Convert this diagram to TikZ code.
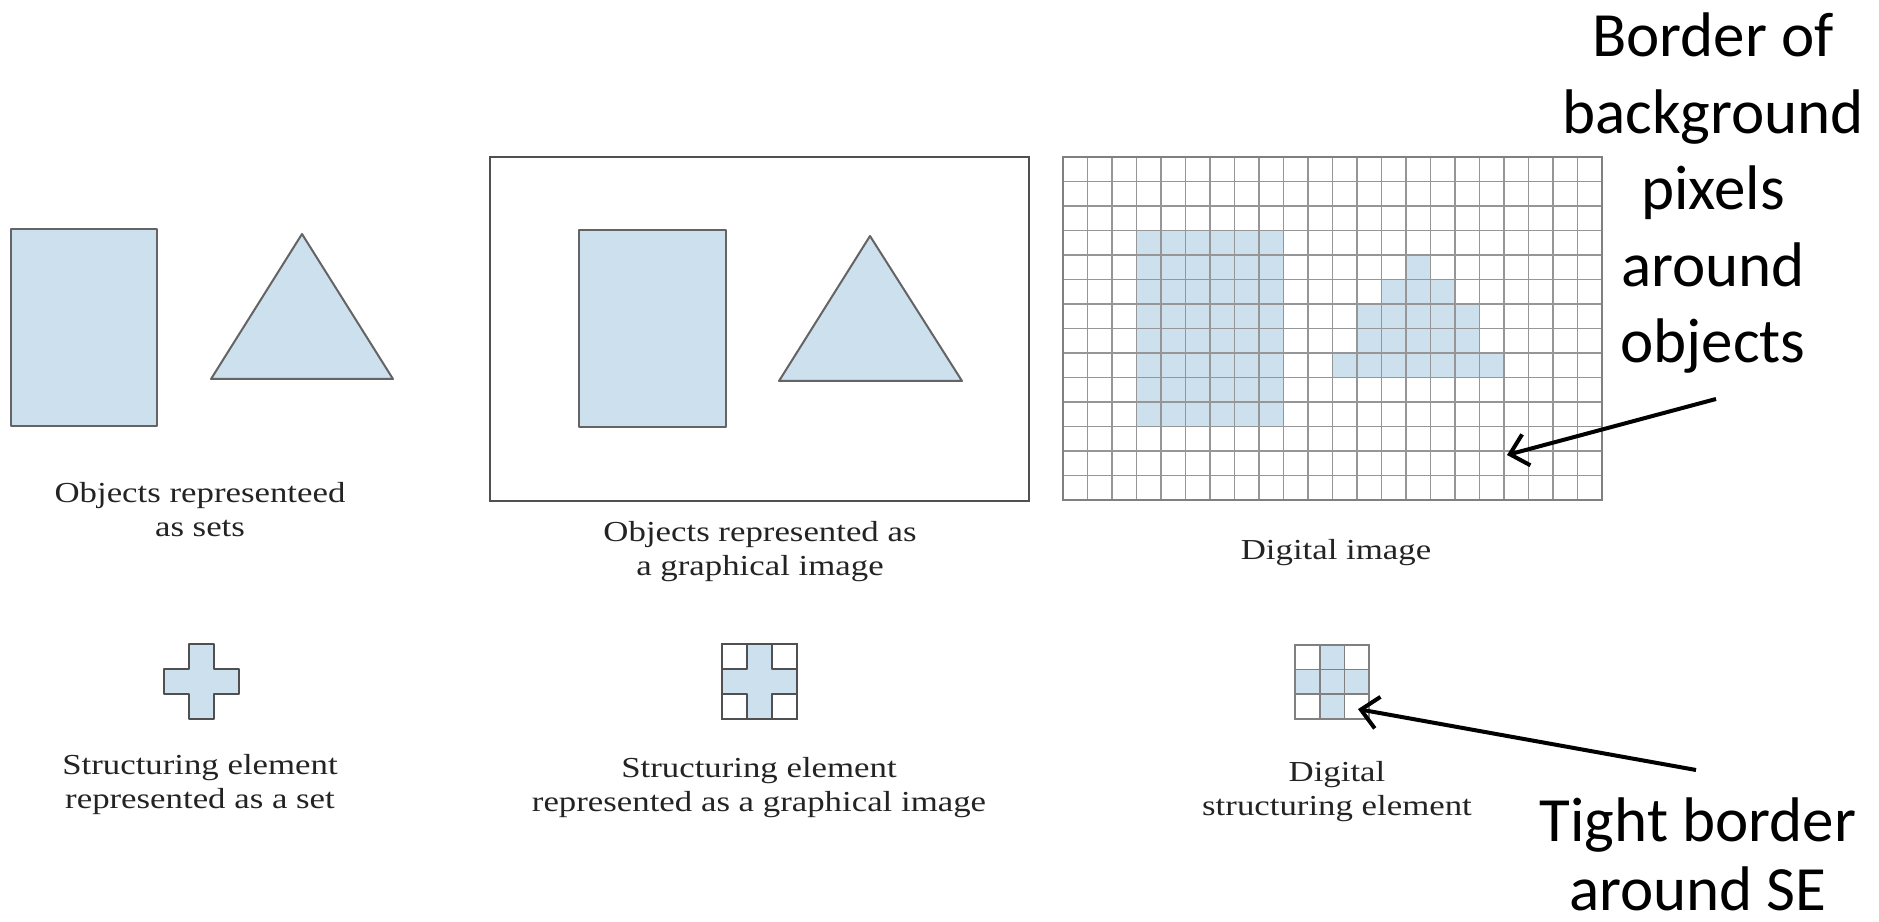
\documentclass[tikz,border=0pt]{standalone}
\usepackage{fontspec}
\usetikzlibrary{arrows.meta,backgrounds}
\newfontfamily\capfont[FakeStretch=1.2]{Liberation Serif}
\newfontfamily\notefont{Carlito}
\definecolor{setblue}{RGB}{204,224,237}
\definecolor{edgegray}{RGB}{100,100,100}
\definecolor{gridgray}{RGB}{150,150,150}
\definecolor{framegray}{RGB}{80,80,80}
\definecolor{capgray}{RGB}{35,35,35}

\tikzset{
  blueobj/.style={fill=setblue, draw=edgegray, line width=2pt, line join=round},
  capt/.style={font=\capfont\fontsize{29}{34}\selectfont, text=capgray,
    align=center, anchor=base, inner sep=0pt},
  note/.style={font=\notefont\fontsize{63}{76.5}\selectfont,
    align=center, anchor=base, inner sep=0pt},
  pointer/.style={line width=4pt, -{Straight Barb[length=17pt,width=32pt]}}
}

\begin{document}
\begin{tikzpicture}[x=1pt,y=1pt]
\useasboundingbox (0,0) rectangle (1879,921);

% Objects as sets
\draw[blueobj] (11,495) rectangle (157,692);
\draw[blueobj] (211,542) -- (302,687) -- (393,542) -- cycle;

% Objects as a graphical image
\draw[framegray, line width=2.5pt] (490,420) rectangle (1029,764);
\draw[blueobj] (579,494) rectangle (726,691);
\draw[blueobj] (779,540) -- (870,685) -- (962,540) -- cycle;

% Digital image: 22 x 14 pixels
\begin{scope}[shift={(1063,421)}, x=24.5pt, y=24.5pt]
  \begin{pgfonlayer}{background}% pixels of the objects
    \fill[setblue] (3,3) rectangle (9,11);
    \fill[setblue] (11,5) -- (18,5) -- (18,6) -- (17,6) -- (17,8) --
      (16,8) -- (16,9) -- (15,9) -- (15,10) -- (14,10) -- (14,9) --
      (13,9) -- (13,8) -- (12,8) -- (12,6) -- (11,6) -- cycle;
  \end{pgfonlayer}
  \foreach \i in {1,...,21}
    \draw[gridgray, line width=1.7pt] (\i,0) -- (\i,14);
  \foreach \j in {1,...,13}
    \draw[gridgray, line width=1.7pt] (0,\j) -- (22,\j);
  \draw[gray, line width=2.5pt] (0,0) rectangle (22,14);
\end{scope}

% Structuring element as a set
\begin{scope}[shift={(164,202)}, x=25pt, y=25pt]
  \draw[blueobj, draw=framegray] (1,0) -- (2,0) -- (2,1) -- (3,1) -- (3,2) --
    (2,2) -- (2,3) -- (1,3) -- (1,2) -- (0,2) -- (0,1) -- (1,1) -- cycle;
\end{scope}

% Structuring element as a graphical image
\begin{scope}[shift={(722,202)}, x=25pt, y=25pt]
  \draw[framegray, line width=2pt] (0,0) rectangle (3,3);
  \draw[blueobj, draw=framegray] (1,0) -- (2,0) -- (2,1) -- (3,1) -- (3,2) --
    (2,2) -- (2,3) -- (1,3) -- (1,2) -- (0,2) -- (0,1) -- (1,1) -- cycle;
\end{scope}

% Digital structuring element
\begin{scope}[shift={(1295,202)}, x=24.7pt, y=24.7pt]
  \fill[setblue] (1,0) rectangle (2,3);
  \fill[setblue] (0,1) rectangle (3,2);
  \foreach \i in {1,2}
    \draw[gridgray!85!black, line width=1.7pt] (\i,0) -- (\i,3) (0,\i) -- (3,\i);
  \draw[gray, line width=2.5pt] (0,0) rectangle (3,3);
  \coordinate (SEtip) at (2.55,0.4);
\end{scope}

% Captions (base = last line)
\node[capt] (setcap) at (200,384) {Objects representeed\\as sets};
\node[capt] (imgcap) at (760,345) {Objects represented as\\a graphical image};
\node[capt] (digcap) at (1336,361) {Digital image};
\node[capt] (sesetcap) at (200,112) {Structuring element\\represented as a set};
\node[capt] (seimgcap) at (759,109) {Structuring element\\represented as a graphical image};
\node[capt] (sedigcap) at (1337,105) {Digital\\structuring element};

% Notes and their arrows
\node[note] (bordernote) at (1713,558) {Border of\\background\\pixels\\around\\objects};
\node[note, font=\notefont\fontsize{63}{69}\selectfont] (tightnote) at (1698,11)
  {Tight border\\around SE};
\coordinate (bordertail) at (1716,522);
\coordinate (bordertip) at (1507,466);
\coordinate (tighttail) at (1696,151);
\draw[pointer] (bordertail) -- (bordertip);
\draw[pointer] (tighttail) -- (SEtip);

\end{tikzpicture}
\end{document}
